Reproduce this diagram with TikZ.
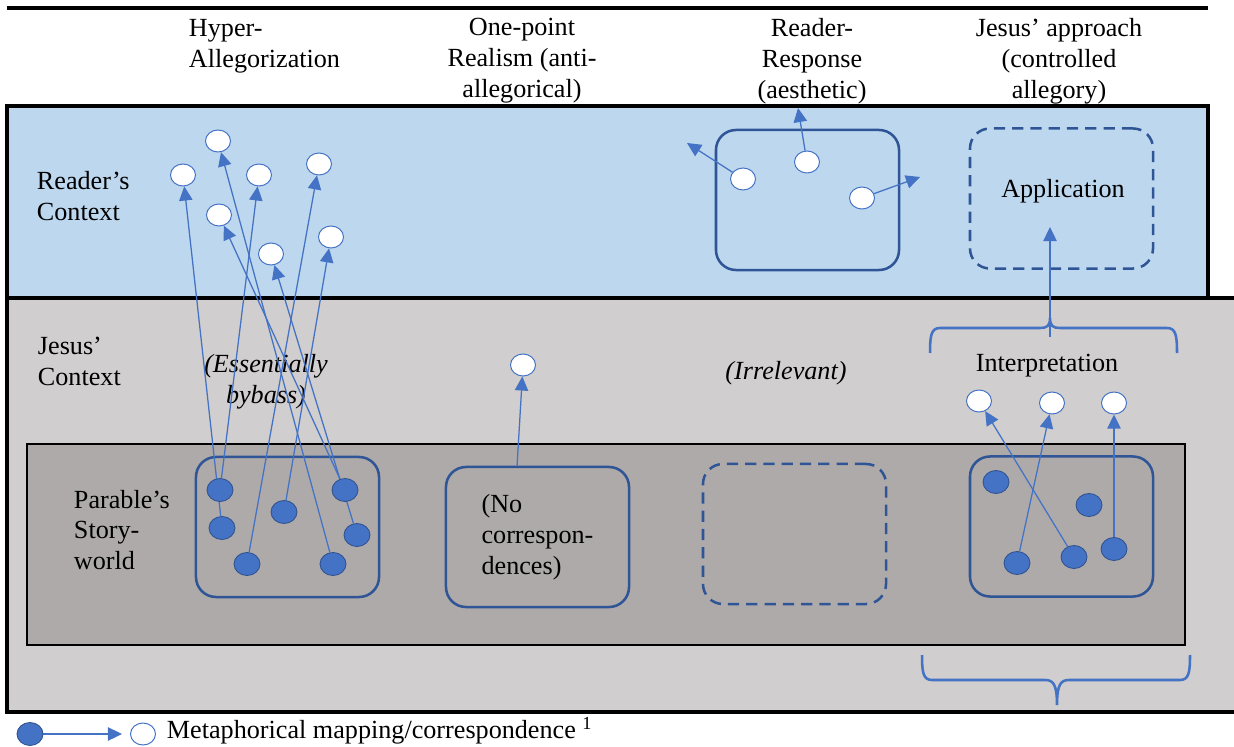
\documentclass[tikz,border=0pt]{standalone}
\usepackage{fontspec}
\setmainfont{Liberation Serif}
\usetikzlibrary{arrows.meta, calc, positioning, shapes.geometric}
\definecolor{readerblue}{HTML}{BDD7EE}
\definecolor{jesusgray}{HTML}{D0CECE}
\definecolor{storygray}{HTML}{AEAAAA}
\definecolor{mapblue}{HTML}{4472C4}
\definecolor{boxblue}{HTML}{2F5597}
\definecolor{dotrim}{HTML}{2F528F}
\newcommand{\diagfont}{\fontsize{18.6}{22}\selectfont}
\pgfdeclarelayer{front}
\pgfsetlayers{main,front}

\begin{document}
\begin{tikzpicture}[% styles used in image code
           x = 0.025cm, y = -0.025cm,
           > = {Triangle[length=10pt, width=9.5pt]},
        font = \diagfont,
  src/.style = {ellipse, draw=dotrim, fill=mapblue, line width=0.6pt,
                minimum width=0.65cm, minimum height=0.575cm, inner sep=0pt},
  tgt/.style = {ellipse, draw=mapblue, fill=white, line width=0.7pt,
                minimum width=0.625cm, minimum height=0.55cm, inner sep=0pt},
mapping/.style = {->, mapblue, line width=0.9pt},
world/.style = {draw=boxblue, line width=1.8pt, rounded corners=0.5cm,
                minimum width=4.575cm, minimum height=3.5cm, inner sep=0pt},
ghost/.style = {world, dash pattern=on 8pt off 5pt},
curly/.style = {mapblue, line width=1.8pt}
                        ]
	\useasboundingbox (0,0) rectangle (1234,747);

	% the three levels
	\fill[jesusgray] (7,298) rectangle (1234,712);
	\draw[line width=2.5pt] (1234,298) -- (7,298) -- (7,712) -- (1234,712);
	\fill[readerblue] (7,106) rectangle (1208,298);
	\draw[line width=2.5pt] (7,106) rectangle (1208,298);
	\draw[fill=storygray, line width=0.8pt] (27,444) rectangle (1185,645);
	\draw[line width=3pt] (7,8) -- (1208,8);

	% column heads
	\node[align=left, anchor=west] (hyperhead) at (184,46) {Hyper-\\Allegorization};
	\node[align=center] (pointhead) at (522,61) {One-point\\Realism (anti-\\allegorical)};
	\node[align=center] (resphead) at (812,61) {Reader-\\Response\\(aesthetic)};
	\node[align=center] (jesushead) at (1059,61) {Jesus’ approach\\(controlled\\allegory)};

	% row labels
	\node[align=left, anchor=west] (readerlbl) at (32,196) {Reader’s\\Context};
	\node[align=left, anchor=west] (jesuslbl) at (33,361) {Jesus’\\Context};
	\node[align=left, anchor=west] (storylbl) at (69,530) {Parable’s\\Story-\\world};

	\node[align=center, font=\diagfont\itshape] (bypass) at (266,382) {(Essentially\\bybass)};
	\node[font=\diagfont\itshape] (irrlbl) at (786,373) {(Irrelevant)};
	\node (interp) at (1047,366) {Interpretation};

	% story-worlds and contexts
	\node[world] (hyperbox) at (287.5,527) {};
	\node[world, align=left] (pointbox) at (537.5,537) {(No\\correspon-\\dences)};
	\node[ghost] (irrbox) at (794.5,534) {};
	\node[world] (jesusbox) at (1061.5,526.5) {};
	\node[world] (respbox) at (807.5,200) {};
	\node[ghost] (appbox) at (1061.5,198.5) {};
	\node (applbl) at (1063,191) {Application};

	\begin{pgfonlayer}{front}
	% hyper-allegorization
	\node[src] (hs1) at (220,490) {};
	\node[src] (hs2) at (222,528) {};
	\node[src] (hs3) at (247,564) {};
	\node[src] (hs4) at (284,512) {};
	\node[src] (hs5) at (345,490) {};
	\node[src] (hs6) at (357,535) {};
	\node[src] (hs7) at (333,564) {};
	\node[tgt] (ht1) at (259,175) {};
	\node[tgt] (ht2) at (183,175) {};
	\node[tgt] (ht3) at (319,164) {};
	\node[tgt] (ht4) at (331,237) {};
	\node[tgt] (ht5) at (219,215) {};
	\node[tgt] (ht6) at (271,254) {};
	\node[tgt] (ht7) at (218,141) {};
	% one-point
	\node[tgt] (pt) at (523,365) {};
	% reader-response
	\node[tgt] (rt1) at (743,179) {};
	\node[tgt] (rt2) at (807,162) {};
	\node[tgt] (rt3) at (862,198) {};
	% controlled allegory
	\node[src] (js1) at (996,482) {};
	\node[src] (js2) at (1089,505) {};
	\node[src] (js3) at (1017,563) {};
	\node[src] (js4) at (1074,557) {};
	\node[src] (js5) at (1114,549) {};
	\node[tgt] (jt1) at (979,401) {};
	\node[tgt] (jt2) at (1052,403) {};
	\node[tgt] (jt3) at (1114,403) {};
	% legend
	\node[src] (legsrc) at (30,734) {};
	\node[tgt] (legtgt) at (143,734) {};
	\end{pgfonlayer}

	\draw[mapping] (hs1) -- (ht1);
	\draw[mapping] (hs2) -- (ht2);
	\draw[mapping] (hs3) -- (ht3);
	\draw[mapping] (hs4) -- (ht4);
	\draw[mapping] (hs5) -- (ht5);
	\draw[mapping] (hs6) -- (ht6);
	\draw[mapping] (hs7) -- (ht7);

	\draw[mapping] (pointbox.106) -- (pt);

	\coordinate (rout1) at (687,143);
	\coordinate (rout2) at (798,108);
	\coordinate (rout3) at (920,177);
	\draw[mapping] (rt1) -- (rout1);
	\draw[mapping] (rt2) -- (rout2);
	\draw[mapping] (rt3) -- (rout3);

	\draw[mapping] (js4) -- (jt1);
	\draw[mapping] (js3) -- (jt2);
	\draw[mapping] (js5) -- (jt3);

	% braces
	\draw[curly] (930,353) .. controls (930,336) and (931,328) .. (940,328) -- (1040,328)
	     .. controls (1047,328) and (1050,326) .. (1050,318)
	     .. controls (1050,326) and (1053,328) .. (1060,328) -- (1167,328)
	     .. controls (1176,328) and (1177,336) .. (1177,353);
	\draw[curly] (922,655) .. controls (922,672) and (923,680) .. (932,680) -- (1045,680)
	     .. controls (1053,680) and (1057,684) .. (1057,705)
	     .. controls (1057,684) and (1061,680) .. (1069,680) -- (1180,680)
	     .. controls (1189,680) and (1190,672) .. (1190,655);
	\coordinate (ibrace) at (1050,337);
	\coordinate (appin) at (1050,227);
	\draw[mapping] (ibrace) -- (appin);

	% legend
	\draw[mapping, shorten >=0.2cm] (legsrc) -- (legtgt);
	\node[anchor=west] (legtext) at (162,731) {Metaphorical mapping/correspondence \textsuperscript{1}};
\end{tikzpicture}
\end{document}
